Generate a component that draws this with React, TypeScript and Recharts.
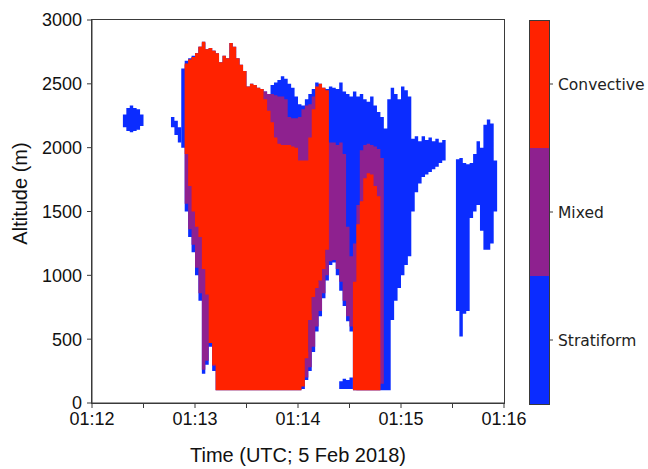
import React from "react";
import { ComposedChart, Area, XAxis, YAxis, BarChart, Bar } from "recharts";

// time = seconds after 01:12:00 UTC, altitude in metres
// each row: [time, bottom, top] of one 2 s column
type Row = [number, number, number];

const stratiformBlob: Row[] = [
  [18, 2160, 2260], [20, 2130, 2310], [22, 2120, 2330], [24, 2130, 2310], [26, 2140, 2300], [28, 2170, 2260],
];

const stratiformStrip: Row[] = [
  [46, 2160, 2240], [48, 2100, 2210], [50, 2040, 2160],
];

const stratiformMain: Row[] = [
  [52, 2000, 2620], [54, 1500, 2680], [56, 1300, 2700], [58, 1180, 2720], [60, 1000, 2740],
  [62, 800, 2790], [64, 230, 2830], [66, 300, 2770], [68, 440, 2780], [70, 250, 2760],
  [72, 100, 2740], [74, 100, 2670], [76, 100, 2720], [78, 100, 2700], [80, 100, 2820],
  [82, 100, 2790], [84, 100, 2700], [86, 100, 2650], [88, 100, 2600], [90, 100, 2480],
  [92, 100, 2500], [94, 100, 2490], [96, 100, 2470], [98, 100, 2460], [100, 100, 2440],
  [102, 100, 2420], [104, 100, 2490], [106, 100, 2510], [108, 100, 2530], [110, 100, 2560],
  [112, 100, 2540], [114, 100, 2500], [116, 100, 2470], [118, 100, 2400], [120, 100, 2340],
  [122, 110, 2330], [124, 180, 2380], [126, 250, 2420], [128, 400, 2460], [130, 560, 2510],
  [132, 680, 2500], [134, 820, 2470], [136, 960, 2460], [138, 1080, 2480], [140, 1100, 2470],
  [142, 1000, 2460], [144, 880, 2510], [146, 760, 2440], [148, 640, 2420], [150, 560, 2400],
  [152, 100, 2440], [154, 100, 2400], [156, 100, 2420], [158, 100, 2380], [160, 100, 2360],
  [162, 100, 2400], [164, 100, 2330], [166, 100, 2280], [168, 100, 2240], [170, 100, 2150],
  [172, 100, 2380], [174, 650, 2470], [176, 800, 2420], [178, 900, 2380], [180, 1000, 2480],
  [182, 1080, 2450], [184, 1150, 2400], [186, 1500, 2070], [188, 1650, 2090], [190, 1720, 2050],
  [192, 1770, 2090], [194, 1790, 2060], [196, 1810, 2080], [198, 1830, 2050], [200, 1850, 2070],
  [202, 1880, 2040], [204, 1900, 2060],
];

const stratiformFoot: Row[] = [
  [144, 110, 170], [146, 110, 190], [148, 110, 180], [150, 110, 200],
];

const stratiformFar: Row[] = [
  [212, 720, 1910], [214, 520, 1920], [216, 700, 1880], [218, 720, 1870], [220, 1450, 1880],
  [222, 1500, 1950], [224, 1550, 2050], [226, 1350, 2000], [228, 1200, 2180], [230, 1200, 2220],
  [232, 1250, 2190], [234, 1500, 1900],
];

const mixedLeft: Row[] = [
  [54, 1560, 2650], [56, 1360, 2690], [58, 1240, 2710], [60, 1060, 2740], [62, 860, 2790],
  [64, 260, 2820], [66, 330, 2770], [68, 470, 2780], [70, 290, 2760],
];

const mixedMid: Row[] = [
  [100, 1900, 2440], [102, 1900, 2420], [104, 1900, 2420], [106, 1900, 2410], [108, 1900, 2400],
  [110, 1900, 2400], [112, 1900, 2380], [114, 1900, 2240], [116, 1900, 2230], [118, 1850, 2230],
  [120, 1850, 2240], [122, 1850, 2300], [124, 1850, 2330], [126, 1850, 2340], [128, 2000, 2400],
];

const mixedRight: Row[] = [
  [124, 200, 400], [126, 280, 700], [128, 440, 900], [130, 600, 950], [132, 720, 1000],
  [134, 860, 1100], [136, 1000, 2040], [138, 1110, 2040], [140, 1120, 2040], [142, 1050, 2020],
  [144, 950, 2040], [146, 800, 1950], [148, 680, 1380], [150, 600, 1150], [152, 120, 1250],
  [154, 100, 1550], [156, 100, 1980], [158, 100, 2020], [160, 100, 2030], [162, 100, 2020],
  [164, 100, 2010], [166, 100, 1990], [168, 150, 1920],
];

const convectiveMain: Row[] = [
  [54, 1950, 2660], [56, 1700, 2690], [58, 1500, 2710], [60, 1380, 2740], [62, 1300, 2790],
  [64, 1050, 2830], [66, 850, 2770], [68, 470, 2780], [70, 300, 2760], [72, 100, 2740],
  [74, 100, 2670], [76, 100, 2720], [78, 100, 2700], [80, 100, 2820], [82, 100, 2790],
  [84, 100, 2700], [86, 100, 2650], [88, 100, 2600], [90, 100, 2480], [92, 100, 2500],
  [94, 100, 2490], [96, 100, 2470], [98, 100, 2460], [100, 100, 2380], [102, 100, 2290],
  [104, 100, 2200], [106, 100, 2080], [108, 100, 2030], [110, 100, 2020], [112, 100, 2020],
  [114, 100, 2020], [116, 100, 2010], [118, 100, 2000], [120, 100, 1900], [122, 130, 1900],
  [124, 350, 1900], [126, 650, 2080], [128, 830, 2300], [130, 900, 2480], [132, 960, 2500],
  [134, 1050, 2470], [136, 1200, 2450],
];

const convectiveRight: Row[] = [
  [152, 100, 950], [154, 100, 1400], [156, 100, 1580], [158, 100, 1760], [160, 100, 1800],
  [162, 100, 1790], [164, 100, 1700], [166, 100, 1620],
];

const classNames = ["Stratiform", "Mixed", "Convective"];
const classColors = ["#0b2cff", "#8e218f", "#ff2200"];

const timeTicks = [0, 30, 60, 90, 120, 150, 180, 210, 240];
const altitudeTicks = [0, 500, 1000, 1500, 2000, 2500, 3000];

const BIN = 2;

const layers = [
  { key: "sBlob", rows: stratiformBlob, cls: 0 },
  { key: "sStrip", rows: stratiformStrip, cls: 0 },
  { key: "sMain", rows: stratiformMain, cls: 0 },
  { key: "sFoot", rows: stratiformFoot, cls: 0 },
  { key: "sFar", rows: stratiformFar, cls: 0 },
  { key: "mLeft", rows: mixedLeft, cls: 1 },
  { key: "mMid", rows: mixedMid, cls: 1 },
  { key: "mRight", rows: mixedRight, cls: 1 },
  { key: "cMain", rows: convectiveMain, cls: 2 },
  { key: "cRight", rows: convectiveRight, cls: 2 },
];

// merge every layer into one table keyed by time; each layer gets a closing
// point one bin later so the stepped area covers its last column
function buildTable() {
  const byT = new Map<number, any>();
  layers.forEach(({ key, rows }) => {
    const last = rows[rows.length - 1];
    const all: Row[] = [...rows, [last[0] + BIN, last[1], last[2]]];
    all.forEach(([t, lo, hi]) => {
      const row = byT.get(t) ?? { t };
      row[key] = [lo, hi];
      byT.set(t, row);
    });
  });
  return [...byT.values()].sort((a, b) => a.t - b.t);
}

const table = buildTable();
const colorbarData = [{ name: "class", Stratiform: 1, Mixed: 1, Convective: 1 }];

const sans = "'Liberation Sans', Arial, Helvetica, sans-serif";
const ink = "#111";
const frame = "#3a3a3a";

const fmtTime = (t: number) =>
  t % 60 === 0 ? `01:${String(12 + t / 60).padStart(2, "0")}` : "";

export default function App() {
  return (
    <div style={{ position: "absolute", left: 0, top: 0, width: 648, height: 469, background: "#fff" }}>
      <div style={{ position: "absolute", left: 0, top: 0 }}>
        <ComposedChart
          width={545}
          height={469}
          data={table}
          margin={{ top: 20, right: 41, bottom: 4, left: 32 }}
        >
          <XAxis
            dataKey="t"
            type="number"
            domain={[0, 240]}
            ticks={timeTicks}
            interval={0}
            tickFormatter={fmtTime}
            height={62}
            tickSize={5}
            tickMargin={4}
            tick={{ fontSize: 18, fontFamily: sans, fill: ink }}
            tickLine={{ stroke: frame }}
            axisLine={{ stroke: frame }}
            allowDataOverflow
            label={{
              value: "Time (UTC; 5 Feb 2018)",
              position: "insideBottom",
              offset: 3,
              style: { fontSize: 20, fontFamily: sans, fill: ink },
            }}
          />
          <YAxis
            type="number"
            domain={[0, 3000]}
            ticks={altitudeTicks}
            interval={0}
            width={60}
            tickSize={5}
            tickMargin={5}
            tick={{ fontSize: 18, fontFamily: sans, fill: ink }}
            tickLine={{ stroke: frame }}
            axisLine={{ stroke: frame }}
            allowDataOverflow
            label={(props: any) => {
              const vb = props.viewBox || { x: 32, y: 20, height: 383 };
              const cx = vb.x - 12;
              const cy = vb.y + vb.height / 2 - 18;
              return (
                <text
                  x={cx}
                  y={cy}
                  transform={`rotate(-90 ${cx} ${cy})`}
                  textAnchor="middle"
                  dominantBaseline="central"
                  style={{ fontSize: 20, fontFamily: sans, fill: ink }}
                >
                  Altitude (m)
                </text>
              );
            }}
          />
          {layers.map(({ key, cls }) => (
            <Area
              key={key}
              dataKey={(d: any) => d[key] ?? null}
              type="stepAfter"
              fill={classColors[cls]}
              fillOpacity={1}
              stroke="none"
              strokeWidth={0}
              dot={false}
              activeDot={false}
              connectNulls={false}
              isAnimationActive={false}
            />
          ))}
        </ComposedChart>
      </div>
      <div
        style={{
          position: "absolute",
          left: 91,
          top: 19,
          width: 414,
          height: 385,
          border: `1px solid ${frame}`,
          boxSizing: "border-box",
          pointerEvents: "none",
        }}
      />
      <div style={{ position: "absolute", left: 529, top: 0 }}>
        <BarChart
          width={119}
          height={469}
          data={colorbarData}
          barCategoryGap={0}
          margin={{ top: 20, right: 0, bottom: 65, left: 0 }}
        >
          <XAxis dataKey="name" hide />
          <YAxis
            orientation="right"
            type="number"
            domain={[0, 3]}
            ticks={[0.5, 1.5, 2.5]}
            interval={0}
            width={99}
            tickSize={4}
            tickMargin={5}
            tickFormatter={(v: number) => classNames[Math.floor(v)]}
            tick={{ fontSize: 15.5, fontFamily: "'DejaVu Sans', sans-serif", fill: "#222" }}
            tickLine={{ stroke: frame }}
            axisLine={false}
          />
          {classNames.map((name, i) => (
            <Bar key={name} dataKey={name} stackId="cb" fill={classColors[i]} isAnimationActive={false} />
          ))}
        </BarChart>
      </div>
      <div
        style={{
          position: "absolute",
          left: 529,
          top: 20,
          width: 21,
          height: 385,
          border: `1px solid ${frame}`,
          boxSizing: "border-box",
          pointerEvents: "none",
        }}
      />
    </div>
  );
}
